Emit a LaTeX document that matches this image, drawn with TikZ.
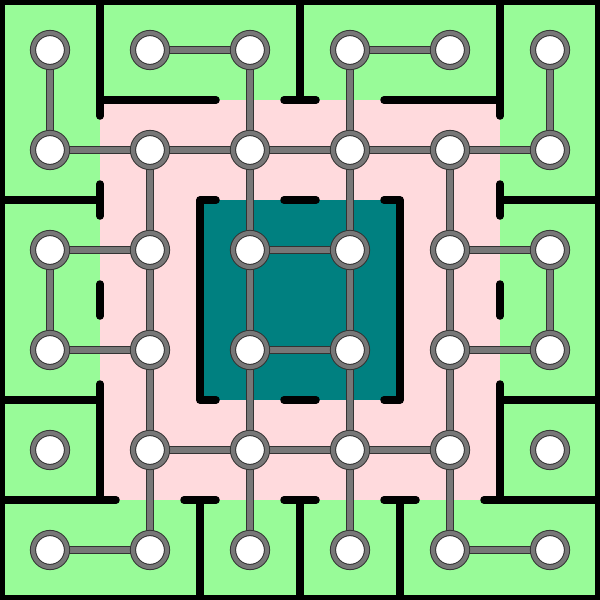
\documentclass[tikz,border=0pt]{standalone}
\pgfdeclarelayer{back}
\pgfdeclarelayer{links}
\pgfsetlayers{back,links,main}
\definecolor{outgreen}{HTML}{98FB98}
\definecolor{midpink}{HTML}{FFDADD}
\definecolor{coreteal}{HTML}{008080}
\definecolor{ringgray}{HTML}{777777}
\definecolor{darkline}{HTML}{333333}
\tikzset{
  vert/.style={circle, inner sep=0pt, minimum size=34pt, fill=white,
    draw=darkline, line width=1pt, double=ringgray, double distance=4.2pt},
  link/.style={draw=darkline, line width=1.1pt, double=ringgray, double distance=5.6pt},
  wall/.style={draw=black, line width=7.5pt, line cap=round, line join=round},
}
\begin{document}
\begin{tikzpicture}[x=1pt,y=-1pt]
\useasboundingbox (0,0) rectangle (600,600);
\begin{pgfonlayer}{back}
\fill[outgreen] (0,0) rectangle (600,600);
\fill[midpink] (100,100) rectangle (500,500);
\fill[coreteal] (200,200) rectangle (400,400);
\end{pgfonlayer}
% nodes
\foreach \c in {1,...,6}{
  \foreach \r in {1,...,6}{
    \node[vert] (n\c\r) at ({100*\c-50},{100*\r-50}) {};
  }
}
% links
\begin{pgfonlayer}{links}
\foreach \a/\b in {
  21/31, 41/51,
  11/12, 31/32, 41/42, 61/62,
  12/22, 22/32, 32/42, 42/52, 52/62,
  22/23, 32/33, 42/43, 52/53,
  13/23, 33/43, 53/63,
  13/14, 23/24, 33/34, 43/44, 53/54, 63/64,
  14/24, 34/44, 54/64,
  24/25, 34/35, 44/45, 54/55,
  25/35, 35/45, 45/55,
  25/26, 35/36, 45/46, 55/56,
  16/26, 56/66}{
  \draw[link] (n\a.center) -- (n\b.center);
}
\end{pgfonlayer}
% walls
\draw[wall] (100,116) -- (100,100) -- (216,100);
\draw[wall] (100,0) -- (100,100);
\draw[wall] (284,100) -- (316,100);
\draw[wall] (300,0) -- (300,100);
\draw[wall] (384,100) -- (500,100) -- (500,116);
\draw[wall] (500,0) -- (500,100);
\draw[wall] (100,184) -- (100,216);
\draw[wall] (0,200) -- (100,200);
\draw[wall] (100,284) -- (100,316);
\draw[wall] (100,384) -- (100,500) -- (116,500);
\draw[wall] (0,400) -- (100,400);
\draw[wall] (0,500) -- (100,500);
\draw[wall] (184,500) -- (216,500);
\draw[wall] (200,500) -- (200,600);
\draw[wall] (284,500) -- (316,500);
\draw[wall] (300,500) -- (300,600);
\draw[wall] (384,500) -- (416,500);
\draw[wall] (400,500) -- (400,600);
\draw[wall] (484,500) -- (500,500) -- (500,384);
\draw[wall] (500,500) -- (600,500);
\draw[wall] (500,400) -- (600,400);
\draw[wall] (500,316) -- (500,284);
\draw[wall] (500,216) -- (500,184);
\draw[wall] (500,200) -- (600,200);
\draw[wall] (216,200) -- (200,200) -- (200,400) -- (216,400);
\draw[wall] (284,200) -- (316,200);
\draw[wall] (284,400) -- (316,400);
\draw[wall] (384,200) -- (400,200) -- (400,400) -- (384,400);
\draw[black, line width=5pt] (2.5,2.5) rectangle (597.5,597.5);
\end{tikzpicture}
\end{document}
